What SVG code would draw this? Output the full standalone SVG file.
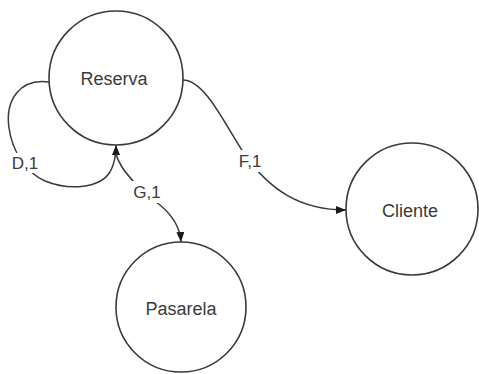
<svg xmlns="http://www.w3.org/2000/svg" width="479" height="374" viewBox="0 0 479 374">
  <defs>
    <style>
      .node circle { fill: #ffffff; stroke: #3a3a3a; stroke-width: 1.6; }
      .node text { font-family: "Liberation Sans", Arial, sans-serif; font-size: 18px; fill: #3a3a3a; text-anchor: middle; }
      .edge { fill: none; stroke: #3a3a3a; stroke-width: 1.5; }
      .lbl-bg { fill: #ffffff; }
      .lbl { font-family: "Liberation Sans", Arial, sans-serif; font-size: 17px; fill: #3a3a3a; text-anchor: middle; }
    </style>
    <marker id="arrow" viewBox="0 0 10 8" refX="10" refY="4" markerWidth="10" markerHeight="8" markerUnits="userSpaceOnUse" orient="auto">
      <path d="M0,0 L10,4 L0,8 Z" fill="#1a1a1a"/>
    </marker>
  </defs>
  <rect width="479" height="374" fill="#ffffff"/>

  <g id="connectors">
    <g id="edge-D1">
      <path class="edge" d="M 49,82 C 20,78 5,100 9,128 C 12,150 25,172 45,181 C 70,191 100,188 110,172 C 114,165 116,158 116,145" marker-end="url(#arrow)"/>
      <rect class="lbl-bg" x="8" y="153" width="34" height="20"/>
      <text class="lbl" x="25" y="169">D,1</text>
    </g>
    <g id="edge-G1">
      <path class="edge" d="M 116,154 C 120,170 140,190 160,205 C 172,215 180,226 181,242" marker-end="url(#arrow)"/>
      <rect class="lbl-bg" x="130" y="181" width="34" height="22"/>
      <text class="lbl" x="147" y="198">G,1</text>
    </g>
    <g id="edge-F1">
      <path class="edge" d="M 183,80 C 205,80 225,125 245,155 C 270,190 300,210 346,210" marker-end="url(#arrow)"/>
      <rect class="lbl-bg" x="234" y="150" width="32" height="22"/>
      <text class="lbl" x="250" y="167">F,1</text>
    </g>
  </g>

  <g id="node-reserva" class="node">
    <circle cx="116" cy="78" r="67"/>
    <text x="114" y="85">Reserva</text>
  </g>
  <g id="node-cliente" class="node">
    <circle cx="412" cy="209" r="66"/>
    <text x="410" y="217">Cliente</text>
  </g>
  <g id="node-pasarela" class="node">
    <circle cx="181" cy="307" r="65"/>
    <text x="181" y="315">Pasarela</text>
  </g>
</svg>
